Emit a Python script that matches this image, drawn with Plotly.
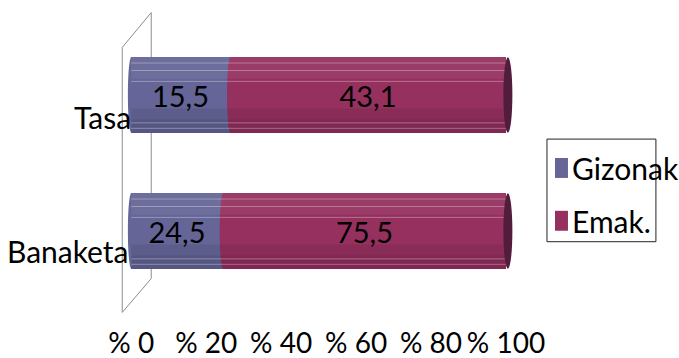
import plotly.graph_objects as go

# ---- data ----
categories = ["Tasa", "Banaketa"]
series_names = ["Gizonak", "Emak."]
gizonak = [15.5, 24.5]
emak = [43.1, 75.5]
tick_values = [0, 20, 40, 60, 80, 100]
tick_labels = ["% 0", "% 20", "% 40", "% 60", "% 80", "% 100"]

colors = ["#656597", "#95305f"]
cap_color = "#521c3c"
FONT = "Lato"
FS = 30

W, H = 679, 358
# axis pixel geometry
XR = [-3, 104]
x0px, x100px = 131.0, 506.0
ppu = (x100px - x0px) / 100.0
plot_left = x0px + XR[0] * ppu
plot_right = x0px + XR[1] * ppu
plot_top, plot_bottom = 26.5, 299.5
ml, mr = plot_left, W - plot_right
mt, mb = plot_top, H - plot_bottom


def px(xp):
    return (xp - plot_left) / (plot_right - plot_left)


def py(yp):
    return (plot_bottom - yp) / (plot_bottom - plot_top)


totals = [g + e for g, e in zip(gizonak, emak)]
g_pct = [g / t * 100 for g, t in zip(gizonak, totals)]
e_pct = [e / t * 100 for e, t in zip(emak, totals)]


def fmt(v):
    return f"{v:.1f}".replace(".", ",")


fig = go.Figure()
BW = 0.555
for name, pct, raw, col in [(series_names[0], g_pct, gizonak, colors[0]),
                            (series_names[1], e_pct, emak, colors[1])]:
    fig.add_trace(go.Bar(
        name=name, y=categories, x=pct, orientation="h", width=BW,
        marker=dict(color=col, line=dict(width=0)),
        text=[fmt(v) for v in raw], textposition="inside",
        insidetextanchor="middle",
        textfont=dict(family=FONT, size=FS - 1, color="black"),
        hoverinfo="skip", showlegend=False,
    ))

shapes = []
# 3D wall (left side)
wall = dict(type="line", xref="paper", yref="paper", layer="below",
            line=dict(color="#8c8c8c", width=1))
for (a, b, c, d) in [(122, 47, 122, 313), (151, 12, 151, 279),
                     (122, 47, 151, 12), (122, 313, 151, 279)]:
    shapes.append({**wall, "x0": px(a), "y0": py(b), "x1": px(c), "y1": py(d)})

order = ["Banaketa", "Tasa"]
half = BW / 2
for i, cat in enumerate(categories):
    yi = order.index(cat)
    xb = g_pct[i]
    # left rounded end
    shapes.append(dict(type="circle", xref="x", yref="y", x0=-0.9, x1=0.9,
                       y0=yi - half, y1=yi + half, fillcolor=colors[0],
                       line=dict(width=0), layer="above"))
    # curved boundary
    shapes.append(dict(type="circle", xref="x", yref="y", x0=xb - 0.9, x1=xb + 0.9,
                       y0=yi - half, y1=yi + half, fillcolor=colors[1],
                       line=dict(width=0), layer="above"))
    # shading bands
    for (lo, hi, c) in [(0.12, 0.28, "rgba(255,255,255,0.06)"),
                        (-0.10, -0.28, "rgba(0,0,0,0.07)"),
                        (-0.18, -0.28, "rgba(0,0,0,0.07)")]:
        shapes.append(dict(type="rect", xref="x", yref="y", x0=0, x1=100,
                           y0=yi + lo, y1=yi + hi, fillcolor=c,
                           line=dict(width=0), layer="above"))
    # facet lines
    for off in [0.235, 0.18, 0.10, -0.205, -0.245]:
        shapes.append(dict(type="line", xref="x", yref="y", x0=0, x1=100,
                           y0=yi + off, y1=yi + off,
                           line=dict(color="rgba(255,255,255,0.32)", width=1),
                           layer="above"))
    # right end cap
    shapes.append(dict(type="circle", xref="x", yref="y", x0=99.3, x1=101.7,
                       y0=yi - half, y1=yi + half, fillcolor=cap_color,
                       line=dict(width=0), layer="above"))

# manual legend
shapes.append(dict(type="rect", xref="paper", yref="paper",
                   x0=px(547), x1=px(656), y0=py(242), y1=py(139),
                   line=dict(color="#222", width=1), fillcolor="rgba(0,0,0,0)"))
annotations = []
for k, (nm, col, yc) in enumerate(zip(series_names, colors, [168, 221])):
    shapes.append(dict(type="rect", xref="paper", yref="paper",
                       x0=px(555), x1=px(568), y0=py(yc + 10), y1=py(yc - 10),
                       fillcolor=col, line=dict(width=0)))
    annotations.append(dict(xref="paper", yref="paper", x=px(570), y=py(yc),
                            xanchor="left", yanchor="middle", text=nm,
                            showarrow=False,
                            font=dict(family=FONT, size=FS, color="black")))

# category labels (3D offset below the bars)
for cat, xs, ys in zip(categories, [2, 0], [-22, -20]):
    annotations.append(dict(xref="x", yref="y", x=0, y=order.index(cat),
                            xanchor="right", yanchor="middle", xshift=xs, yshift=ys,
                            text=cat, showarrow=False,
                            font=dict(family=FONT, size=FS, color="black")))

fig.update_layout(
    width=W, height=H,
    margin=dict(l=ml, r=mr, t=mt, b=mb, pad=0, autoexpand=False),
    barmode="stack", bargap=0,
    paper_bgcolor="white", plot_bgcolor="rgba(0,0,0,0)",
    font=dict(family=FONT, size=FS, color="black"),
    xaxis=dict(range=XR, tickvals=tick_values, ticktext=tick_labels,
               showgrid=False, zeroline=False, showline=False, ticks="",
               tickangle=0, automargin=False,
               ticklabelstandoff=25, tickfont=dict(family=FONT, size=28)),
    yaxis=dict(type="category", categoryorder="array", categoryarray=order,
               range=[-0.5, 1.5], showgrid=False, zeroline=False,
               showline=False, showticklabels=False, ticks="", automargin=False),
    shapes=shapes, annotations=annotations,
    showlegend=False,
)

fig.write_html("out.html", config={"displayModeBar": False},
               post_script="document.body.style.margin='0';")
